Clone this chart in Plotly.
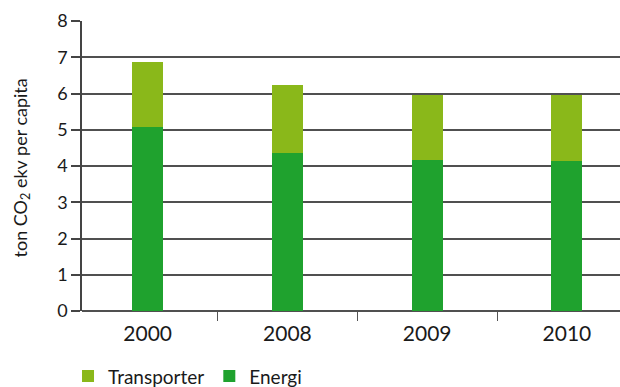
import plotly.graph_objects as go

years = ["2000", "2008", "2009", "2010"]
energi = [5.07, 4.35, 4.16, 4.13]
transporter = [1.81, 1.88, 1.79, 1.82]
yticks = [0, 1, 2, 3, 4, 5, 6, 7, 8]
ytitle = "ton CO<sub>2</sub> ekv per capita"

FONT = "Lato, Noto Sans, sans-serif"

fig = go.Figure()
fig.add_trace(go.Bar(x=years, y=energi, name="Energi", marker_color="#1FA22E",
                     marker_line_width=0, width=0.222))
fig.add_trace(go.Bar(x=years, y=transporter, name="Transporter", marker_color="#8AB81A",
                     marker_line_width=0, width=0.222))

fig.update_layout(
    width=620, height=387,
    margin=dict(l=82, r=0, t=21, b=76, autoexpand=False),
    barmode="stack",
    plot_bgcolor="white", paper_bgcolor="white",
    font=dict(family=FONT, size=17, color="#1a1a1a"),
    showlegend=True,
    legend=dict(orientation="h", x=-0.026, xanchor="left", y=-0.225, yanchor="middle",
                traceorder="reversed", font=dict(size=19), itemwidth=30,
                bgcolor="rgba(0,0,0,0)"),
    xaxis=dict(type="category", range=[-0.47, 3.38], tickson="boundaries",
               ticks="outside", ticklen=9, tickwidth=1, tickcolor="#555",
               ticklabelstandoff=8,
               showline=False, showgrid=False, zeroline=False, automargin=False,
               tickfont=dict(size=21)),
    yaxis=dict(range=[0, 8], tickvals=yticks, ticks="outside", ticklen=9,
               tickwidth=1.5, tickcolor="#444", automargin=False,
               showgrid=True, gridcolor="#505050", gridwidth=1.5,
               showline=True, linecolor="#444", linewidth=1.5,
               zeroline=True, zerolinecolor="#505050", zerolinewidth=1.5,
               tickfont=dict(size=18)),
)
fig.add_annotation(text=ytitle, textangle=-90, xref="paper", yref="paper",
                   x=-0.1134, y=0.495, xanchor="center", yanchor="middle",
                   showarrow=False, font=dict(size=18, color="#1a1a1a"))
fig.add_shape(type="line", xref="paper", x0=0, x1=0, yref="y", ysizemode="pixel",
              yanchor=0, y0=0, y1=-9, line=dict(color="#444", width=1.5))

fig.write_html("out.html", config={"displayModeBar": False},
               post_script="document.body.style.margin='0';document.body.style.overflow='hidden';")
